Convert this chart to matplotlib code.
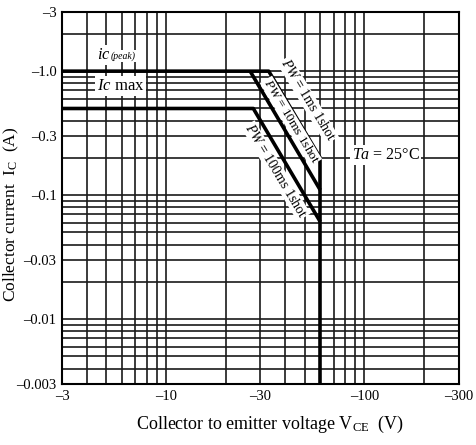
import matplotlib
matplotlib.use("Agg")
import matplotlib.pyplot as plt
import numpy as np

plt.rcParams['font.family'] = ['Liberation Serif', 'DejaVu Serif']
plt.rcParams['mathtext.fontset'] = 'custom'
plt.rcParams['mathtext.it'] = 'Liberation Serif:italic'
plt.rcParams['mathtext.rm'] = 'Liberation Serif'

# Data (values as shown on the chart: negative voltages / currents)
x_ticks = [-3, -10, -30, -100, -300]
x_tick_labels = ['\u20133', '\u201310', '\u201330', '\u2013100', '\u2013300']
y_ticks = [-0.003, -0.01, -0.03, -0.1, -0.3, -1.0, -3]
y_tick_labels = ['\u20130.003', '\u20130.01', '\u20130.03', '\u20130.1', '\u20130.3', '\u20131.0', '\u20133']

# SOA boundaries
v_1ms = [-3, -33, -60]
i_1ms = [-1.0, -1.0, -0.2]
v_10ms = [-26.6, -60]
i_10ms = [-1.0, -0.11]
v_100ms = [-3, -27.6, -60]
i_100ms = [-0.5, -0.5, -0.061]
v_vceo = [-60, -60]
i_vceo = [-0.2, -0.003]

fig = plt.figure(figsize=(4.77, 4.45), dpi=100)
ax = fig.add_axes([62/477, 1-384/445, (459-62)/477, (384-12)/445])
ax.set_xscale('log')
ax.set_yscale('log')
ax.set_xlim(3, 300)
ax.set_ylim(0.003, 3)

# grid at 1..9 x 10^k
gx = [m*10**k for k in range(0, 3) for m in range(1, 10)]
gx = [g for g in gx if 3 < g < 300]
gy = [m*10**k for k in range(-3, 1) for m in range(1, 10)]
gy = [g for g in gy if 0.003 < g < 3]
for g in gx:
    ax.axvline(g, color='#1a1a1a', lw=1.2, zorder=1)
for g in gy:
    ax.axhline(g, color='#1a1a1a', lw=1.2, zorder=1)

lw = 2.6
for v, i in [(v_1ms, i_1ms), (v_10ms, i_10ms), (v_100ms, i_100ms), (v_vceo, i_vceo)]:
    ax.plot(np.abs(v), np.abs(i), color='black', lw=lw, solid_capstyle='butt', zorder=3)

ax.set_xticks(np.abs(x_ticks))
ax.set_xticklabels(x_tick_labels)
ax.set_yticks(np.abs(y_ticks))
ax.set_yticklabels(y_tick_labels)
ax.minorticks_off()
ax.tick_params(length=0, labelsize=10.5, pad=4)
for s in ax.spines.values():
    s.set_linewidth(1.5)

ax.set_xlabel('Collector to emitter voltage V$_{\\mathrm{CE}}$  (V)', fontsize=13, va='center')
ax.xaxis.set_label_coords(0.525, -0.11)
ax.set_ylabel('Collector current  I$_{\\mathrm{C}}$  (A)', fontsize=12.5, va='center')
ax.yaxis.set_label_coords(-0.127, 0.455)

wb = dict(boxstyle='square,pad=0.1', fc='white', ec='none')
ax.text(4.5, 1.35, '$ic$', fontsize=12, ha='left', va='center', bbox=wb, zorder=4)
ax.text(5.25, 1.33, '(peak)', fontsize=7, ha='left', va='center', style='italic', bbox=wb, zorder=4)
ax.text(4.5, 0.76, '$Ic$ max', fontsize=12, ha='left', va='center', bbox=wb, zorder=4)
ax.text(128, 0.211, '$Ta$ = 25\u00b0C', fontsize=11.5, ha='center', va='center', bbox=wb, zorder=4)

ang = -59
rb = dict(boxstyle='square,pad=0.05', fc='white', ec='none')
ax.text(52, 0.585, '$PW$ = 1ms 1shot', fontsize=10, rotation=ang, ha='center', va='center',
        rotation_mode='anchor', bbox=rb, zorder=4)
ax.text(42.7, 0.396, '$PW$ = 10ms 1shot', fontsize=9.5, rotation=ang, ha='center', va='center',
        rotation_mode='anchor', bbox=rb, zorder=4)
ax.text(35.9, 0.157, '$PW$ = 100ms 1shot', fontsize=10, rotation=ang, ha='center', va='center',
        rotation_mode='anchor', bbox=rb, zorder=4)

fig.savefig('out.png', dpi=100)
